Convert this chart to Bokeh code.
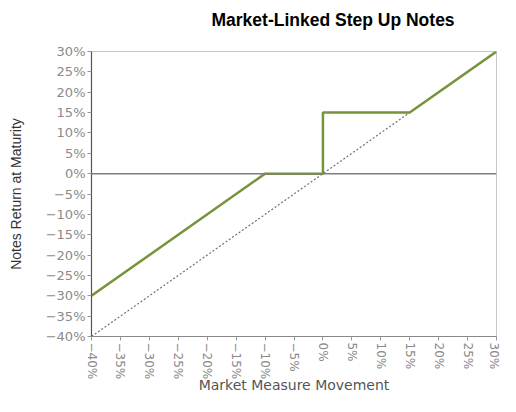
import math
from bokeh.plotting import figure
from bokeh.models import Range1d, FixedTicker, Span, Title
from bokeh.embed import file_html
from bokeh.resources import INLINE

# ---- data ----
tick_values = [-40, -35, -30, -25, -20, -15, -10, -5, 0, 5, 10, 15, 20, 25, 30]
tick_labels = ["\u221240%", "\u221235%", "\u221230%", "\u221225%", "\u221220%", "\u221215%",
               "\u221210%", "\u22125%", "0%", "5%", "10%", "15%", "20%", "25%", "30%"]
payoff_x = [-40, -10, 0, 0, 15, 30]
payoff_y = [-30, 0, 0, 15, 15, 30]
market_x = [-40, 30]
market_y = [-40, 30]
zero_level = 0

title_text = "Market-Linked Step Up Notes"
x_title = "Market Measure Movement"
y_title = "Notes Return at Maturity"

p = figure(width=500, height=396, output_backend="svg", toolbar_location=None,
           x_range=Range1d(-40, 30), y_range=Range1d(-40, 30),
           min_border_left=91, min_border_right=4, min_border_top=51, min_border_bottom=0)

p.xgrid.visible = False
p.ygrid.visible = False
p.outline_line_color = "#c8c8c8"
p.outline_line_width = 1

overrides = {v: l for v, l in zip(tick_values, tick_labels)}

for ax in (p.xaxis[0], p.yaxis[0]):
    ax.ticker = FixedTicker(ticks=tick_values)
    ax.major_label_overrides = overrides
    ax.minor_tick_line_color = None
    ax.major_tick_in = 0
    ax.major_tick_out = 4
    ax.major_tick_line_color = "#999999"
    ax.major_label_text_font = "DejaVu Sans"
    ax.major_label_text_color = "#8a8a8a"

p.yaxis.axis_line_color = "#555555"
p.yaxis.axis_line_width = 1.2
p.yaxis.major_label_text_font_size = "13px"
p.yaxis.major_label_standoff = 2
p.yaxis.axis_label = y_title
p.yaxis.axis_label_text_font = "Liberation Sans"
p.yaxis.axis_label_text_font_size = "14px"
p.yaxis.axis_label_text_font_style = "normal"
p.yaxis.axis_label_text_color = "#333333"
p.yaxis.axis_label_standoff = 19

p.xaxis.axis_line_color = "#888888"
p.xaxis.major_label_text_font_size = "12px"
p.xaxis.major_label_orientation = -math.pi / 2
p.xaxis.major_label_standoff = 2
p.xaxis.axis_label = x_title
p.xaxis.axis_label_text_font = "DejaVu Sans"
p.xaxis.axis_label_text_font_size = "14px"
p.xaxis.axis_label_text_font_style = "normal"
p.xaxis.axis_label_text_color = "#555555"
p.xaxis.axis_label_standoff = -5

# reference diagonal (market measure)
p.line(market_x, market_y, line_color="#707070", line_width=1.2, line_dash="2 2")
# zero line
p.add_layout(Span(location=zero_level, dimension="width", line_color="#7f7f7f", line_width=1.5))
# payoff
p.line(payoff_x, payoff_y, line_color="#77933c", line_width=2.5)

# chart title (spacer first so the title sits higher above the frame)
p.add_layout(Title(text=" ", text_font_size="10px", standoff=8), "above")
p.add_layout(Title(text=title_text, align="left", offset=120, standoff=2,
                   text_font="Liberation Sans", text_font_size="17.5px",
                   text_font_style="bold", text_color="#000000"), "above")

open("out.html", "w").write(file_html(p, INLINE))
